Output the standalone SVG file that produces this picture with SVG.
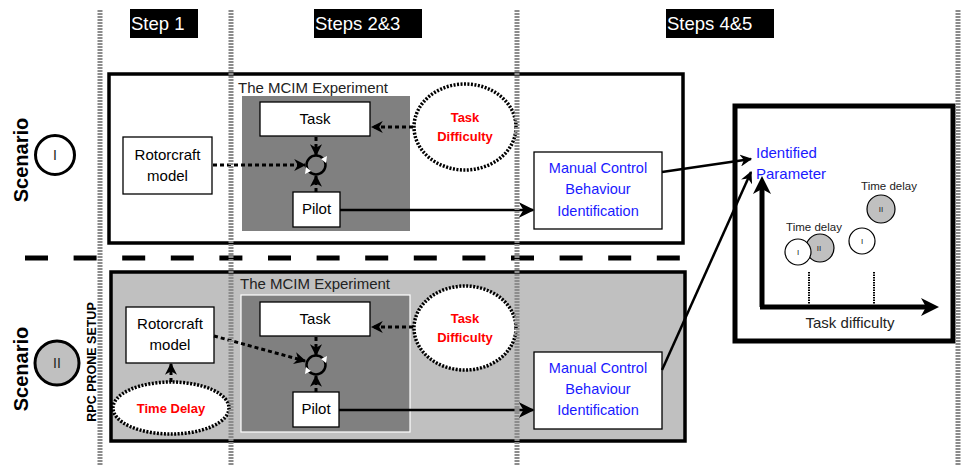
<svg xmlns="http://www.w3.org/2000/svg" width="961" height="466" viewBox="0 0 961 466">
<style>
text{font-family:"Liberation Sans",Arial,sans-serif;}
.box{fill:#fff;stroke:#000;stroke-width:1.3;}
.lbl{font-size:15px;text-anchor:middle;fill:#000;}
.blue{font-size:14.5px;text-anchor:middle;fill:#1a1aff;}
.red{font-size:13px;font-weight:bold;text-anchor:middle;fill:#ff0000;}
.hdr{fill:#000;}
.hdrt{font-size:18.5px;fill:#fff;}
.dash{fill:none;stroke:#000;stroke-width:3;stroke-dasharray:4 3;}
.ell{fill:#fff;stroke:#000;stroke-width:3.5;stroke-dasharray:2 1.5;}
.grid{stroke:#8c8c8c;stroke-width:5;stroke-dasharray:2 1;}
.solid{fill:none;stroke:#000;stroke-width:2.5;}
.sum{fill:none;stroke:#000;stroke-width:2.5;}
.tri{fill:#fff;stroke:none;}
</style>
<defs>
<marker id="ah" viewBox="0 0 10 10" refX="9" refY="5" markerWidth="12" markerHeight="12" markerUnits="userSpaceOnUse" orient="auto"><path d="M0,0 L10,5 L0,10 L3,5 z" fill="#000"/></marker>
<marker id="ahb" viewBox="0 0 10 10" refX="9" refY="5" markerWidth="16" markerHeight="16" markerUnits="userSpaceOnUse" orient="auto"><path d="M0,0 L10,5 L0,10 L3,5 z" fill="#000"/></marker>
</defs>
<rect width="961" height="466" fill="#fff"/>

<g id="headers">
<rect class="hdr" x="130" y="9" width="68" height="29"/>
<text class="hdrt" x="131" y="30">Step 1</text>
<rect class="hdr" x="314" y="9" width="108" height="29"/>
<text class="hdrt" x="315" y="30">Steps 2&amp;3</text>
<rect class="hdr" x="666" y="9" width="108" height="29"/>
<text class="hdrt" x="667" y="30">Steps 4&amp;5</text>
</g>

<g id="scenario1">
<rect x="109" y="74" width="574" height="169" fill="#fff" stroke="#000" stroke-width="3.5"/>
<text x="238" y="93" style="font-size:15px;fill:#222">The MCIM Experiment</text>
<rect x="242" y="96" width="168" height="135" fill="#808080"/>
</g>
<g id="scenario2">
<rect x="111" y="272" width="574" height="169" fill="#c0c0c0" stroke="#000" stroke-width="3.5"/>
<text x="240" y="289" style="font-size:15px;fill:#222">The MCIM Experiment</text>
<rect x="241" y="295" width="169" height="137" fill="#808080" stroke="#fff" stroke-width="1.2"/>
</g>

<g id="scenario-labels">
<text transform="translate(28,160) rotate(-90)" style="font-size:20px;font-weight:bold;text-anchor:middle">Scenario</text>
<circle cx="55" cy="155" r="19.5" fill="#fff" stroke="#000" stroke-width="3"/>
<text x="55" y="160" style="font-size:14px;text-anchor:middle;fill:#222">I</text>
<text transform="translate(28,369) rotate(-90)" style="font-size:20px;font-weight:bold;text-anchor:middle">Scenario</text>
<circle cx="57" cy="363" r="22" fill="#c0c0c0" stroke="#000" stroke-width="3"/>
<text x="57" y="368" style="font-size:14px;text-anchor:middle;fill:#222">II</text>
<text transform="translate(96,362) rotate(-90)" style="font-size:12.5px;font-weight:bold;text-anchor:middle">RPC PRONE SETUP</text>
</g>

<g id="task1"><rect class="box" x="260" y="102" width="110" height="34"/><text class="lbl" x="315" y="124">Task</text></g>
<g id="rotor1"><rect class="box" x="123" y="137" width="89" height="57"/><text class="lbl" x="167.5" y="160">Rotorcraft</text><text class="lbl" x="167.5" y="181">model</text></g>
<g id="pilot1"><rect class="box" x="293" y="192" width="47" height="35"/><text class="lbl" x="316.5" y="214">Pilot</text></g>
<g id="taskdiff1"><ellipse class="ell" cx="465" cy="127" rx="51" ry="43"/><text class="red" x="465" y="122">Task</text><text class="red" x="465" y="141">Difficulty</text></g>
<g id="mcbi1"><rect class="box" x="534" y="152" width="128" height="77"/><text class="blue" x="598" y="173">Manual Control</text><text class="blue" x="598" y="194">Behaviour</text><text class="blue" x="598" y="216">Identification</text></g>
<g id="sum1"><circle class="sum" cx="316" cy="165" r="9.5"/><polygon class="tri" points="321,159 327,156 326,163"/><polygon class="tri" points="311,171 305,174 306,167"/></g>

<g id="task2"><rect class="box" x="260" y="302" width="110" height="34"/><text class="lbl" x="315" y="324">Task</text></g>
<g id="rotor2"><rect class="box" x="126" y="307" width="88" height="56"/><text class="lbl" x="170" y="329">Rotorcraft</text><text class="lbl" x="170" y="350">model</text></g>
<g id="pilot2"><rect class="box" x="293" y="392" width="46" height="35"/><text class="lbl" x="316" y="414">Pilot</text></g>
<g id="taskdiff2"><ellipse class="ell" cx="465" cy="328" rx="51" ry="42"/><text class="red" x="465" y="323">Task</text><text class="red" x="465" y="342">Difficulty</text></g>
<g id="timedelay"><ellipse class="ell" cx="171" cy="408" rx="58" ry="26"/><text class="red" x="171" y="413">Time Delay</text></g>
<g id="mcbi2"><rect class="box" x="534" y="352" width="128" height="77"/><text class="blue" x="598" y="373">Manual Control</text><text class="blue" x="598" y="394">Behaviour</text><text class="blue" x="598" y="415">Identification</text></g>
<g id="sum2"><circle class="sum" cx="316" cy="365" r="9.5"/><polygon class="tri" points="321,359 327,356 326,363"/><polygon class="tri" points="311,371 305,374 306,367"/></g>

<g id="plot">
<rect x="735" y="106" width="218" height="235" fill="#fff" stroke="#000" stroke-width="5"/>
<text x="756" y="158" style="font-size:15px;fill:#1a1aff">Identified</text>
<text x="756" y="179" style="font-size:15px;fill:#1a1aff">Parameter</text>
<line x1="809" y1="272" x2="809" y2="304" stroke="#000" stroke-width="2" stroke-dasharray="1.5 1"/>
<line x1="874" y1="272" x2="874" y2="304" stroke="#000" stroke-width="2" stroke-dasharray="1.5 1"/>
<text x="814" y="231" style="font-size:11.5px;text-anchor:middle;fill:#222">Time delay</text>
<circle cx="820" cy="248" r="14" fill="#c0c0c0" stroke="#000" stroke-width="1.2"/>
<text x="819" y="251" style="font-size:8px;text-anchor:middle;fill:#222">II</text>
<circle cx="798" cy="252" r="13" fill="#fff" stroke="#000" stroke-width="1.2"/>
<text x="798" y="255" style="font-size:8px;text-anchor:middle;fill:#222">I</text>
<text x="889" y="190" style="font-size:11.5px;text-anchor:middle;fill:#222">Time delay</text>
<circle cx="881" cy="209" r="14" fill="#c0c0c0" stroke="#000" stroke-width="1.2"/>
<text x="881" y="212" style="font-size:8px;text-anchor:middle;fill:#222">II</text>
<circle cx="862" cy="241" r="13" fill="#fff" stroke="#000" stroke-width="1.2"/>
<text x="862" y="244" style="font-size:8px;text-anchor:middle;fill:#222">I</text>
<text x="850" y="328" style="font-size:15px;text-anchor:middle;fill:#222">Task difficulty</text>
<polyline points="762,307 762,182" fill="none" stroke="#000" stroke-width="5"/>
<path d="M762,176 L771,194 L762,189 L753,194 z" fill="#000"/>
<polyline points="760,307 930,307" fill="none" stroke="#000" stroke-width="5"/>
<path d="M939,307 L921,298 L926,307 L921,316 z" fill="#000"/>
</g>

<g id="connectors">
<line class="dash" x1="213" y1="165" x2="305" y2="165" marker-end="url(#ah)"/>
<line class="dash" x1="413" y1="127" x2="372" y2="127" marker-end="url(#ah)"/>
<line class="dash" x1="316" y1="137" x2="316" y2="155" marker-end="url(#ah)"/>
<line class="dash" x1="316" y1="192" x2="316" y2="176" marker-end="url(#ah)"/>
<line class="solid" x1="340" y1="210" x2="533" y2="210" stroke-width="3" marker-end="url(#ahb)"/>
<line class="solid" x1="662" y1="172" x2="751" y2="159" marker-end="url(#ah)"/>

<line class="dash" x1="214" y1="336" x2="305" y2="361" marker-end="url(#ah)"/>
<line class="dash" x1="413" y1="327" x2="372" y2="327" marker-end="url(#ah)"/>
<line class="dash" x1="316" y1="337" x2="316" y2="355" marker-end="url(#ah)"/>
<line class="dash" x1="316" y1="392" x2="316" y2="376" marker-end="url(#ah)"/>
<line class="dash" x1="171" y1="382" x2="171" y2="364" marker-end="url(#ah)"/>
<line class="solid" x1="339" y1="410" x2="533" y2="410" stroke-width="3" marker-end="url(#ahb)"/>
<line class="solid" x1="662" y1="370" x2="751" y2="172" marker-end="url(#ah)"/>
</g>

<g id="dividers">
<line x1="25" y1="258" x2="683" y2="258" stroke="#000" stroke-width="5" stroke-dasharray="23 25.6"/>
<line class="grid" x1="100" y1="10" x2="100" y2="466"/>
<line class="grid" x1="231" y1="10" x2="231" y2="466"/>
<line class="grid" x1="517" y1="10" x2="517" y2="466"/>
<line class="grid" x1="958" y1="10" x2="958" y2="466" stroke-width="2"/>
</g>
</svg>
